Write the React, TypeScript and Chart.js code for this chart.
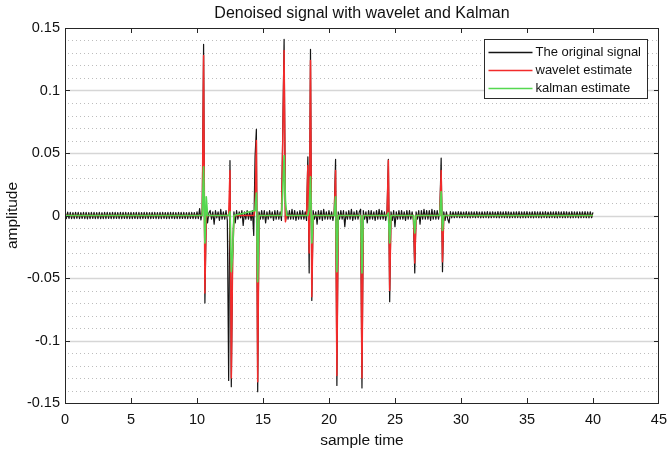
import React, { useEffect, useRef } from "react";
import { Chart, registerables } from "chart.js";

Chart.register(...registerables);

// ---------------- data ----------------
const TITLE = "Denoised signal with wavelet and Kalman";
const X_LABEL = "sample time";
const Y_LABEL = "amplitude";
const SERIES_LABELS = ["The original signal", "wavelet estimate", "kalman estimate"];

// original signal, sampled every 0.1 from t = 0 to t = 40 (one row = one time unit)
const SAMPLE_STEP = 0.1;
const originalSignal = [
  0.004, -0.0025, 0.0027, -0.0024, 0.0025, -0.0026, 0.0024, -0.0025, 0.0026, -0.0023,
  0.0025, -0.0026, 0.0024, -0.0024, 0.0026, -0.0025, 0.0025, -0.0027, 0.0024, -0.0025,
  0.0026, -0.0024, 0.0025, -0.0026, 0.0024, -0.0025, 0.0026, -0.0026, 0.0023, -0.0025,
  0.0025, -0.0025, 0.0026, -0.0024, 0.0024, -0.0026, 0.0025, -0.0025, 0.0026, -0.0024,
  0.0024, -0.0026, 0.0025, -0.0025, 0.0026, -0.0024, 0.0025, -0.0026, 0.0024, -0.0025,
  0.0026, -0.0025, 0.0024, -0.0024, 0.0025, -0.0026, 0.0026, -0.0025, 0.0024, -0.0025,
  0.0025, -0.0024, 0.0026, -0.0026, 0.0024, -0.0025, 0.0025, -0.0024, 0.0026, -0.0026,
  0.0024, -0.0025, 0.0025, -0.0026, 0.0026, -0.0024, 0.0024, -0.0025, 0.0025, -0.0026,
  0.0026, -0.0024, 0.0025, -0.0025, 0.0024, -0.0026, 0.0026, -0.0025, 0.0025, -0.0024,
  0.0025, -0.0026, 0.0024, -0.0025, 0.0026, -0.0024, 0.0025, -0.0025, 0.0024, -0.0026,
  0.003, -0.0025, 0.0055, -0.0035, 0.004, 0.137, -0.07, 0.003, -0.006, 0.002,
  0.004, -0.003, 0.003, -0.007, 0.004, -0.002, 0.003, -0.004, 0.005, -0.003,
  0.003, -0.003, 0.004, -0.004, -0.132, 0.044, -0.137, -0.032, 0.003, -0.006,
  0.004, -0.003, 0.003, -0.002, 0.004, -0.008, 0.003, -0.003, 0.004, -0.003,
  0.003, -0.004, 0.004, -0.016, 0.047, 0.069, -0.141, 0.003, -0.003, 0.004,
  -0.003, 0.004, -0.006, 0.003, -0.003, 0.004, -0.002, 0.003, -0.004, 0.004,
  -0.003, 0.004, -0.003, 0.003, -0.004, 0.068, 0.141, -0.003, 0.004, -0.003,
  0.004, -0.003, 0.005, -0.003, 0.004, -0.004, 0.003, -0.003, 0.004, -0.003,
  0.004, -0.003, 0.003, -0.004, 0.047, -0.046, 0.133, -0.068, 0.004, -0.003,
  0.003, -0.007, 0.004, -0.003, 0.004, -0.004, 0.005, -0.003, 0.003, -0.003,
  0.004, -0.003, 0.003, -0.004, 0.004, 0.045, -0.136, 0.003, -0.003, 0.004,
  -0.003, 0.004, -0.009, 0.003, -0.003, 0.004, -0.003, 0.005, -0.004, 0.003,
  -0.003, 0.004, -0.003, 0.003, 0.005, -0.138, 0.004, -0.003, 0.003, -0.006,
  0.004, -0.003, 0.004, -0.003, 0.003, -0.004, 0.004, -0.003, 0.005, -0.003,
  0.004, -0.003, 0.003, -0.004, 0.004, 0.045, -0.069, 0.003, -0.004, 0.004,
  -0.009, 0.003, -0.003, 0.004, -0.003, 0.004, -0.003, 0.003, -0.004, 0.004,
  -0.003, 0.004, -0.003, 0.003, -0.004, -0.046, 0.003, -0.003, 0.004, -0.007,
  0.004, -0.003, 0.005, -0.003, 0.004, -0.003, 0.004, -0.004, 0.005, -0.003,
  0.004, -0.003, 0.004, -0.003, 0.004, 0.046, -0.045, 0.003, -0.004, 0.003,
  -0.003, -0.006, 0.0031, -0.002, 0.003, -0.0018, 0.0029, -0.0017, 0.0031, -0.0018,
  0.003, -0.0018, 0.0028, -0.0017, 0.0031, -0.0018, 0.0029, -0.0019, 0.003, -0.0017,
  0.0029, -0.0018, 0.0031, -0.0017, 0.0028, -0.0019, 0.003, -0.0018, 0.0029, -0.0017,
  0.0031, -0.0019, 0.0029, -0.0018, 0.003, -0.0017, 0.0028, -0.0018, 0.0031, -0.0019,
  0.003, -0.0017, 0.0029, -0.0018, 0.0031, -0.0018, 0.003, -0.0019, 0.0028, -0.0017,
  0.0029, -0.0018, 0.003, -0.0017, 0.0031, -0.0019, 0.0029, -0.0018, 0.003, -0.0018,
  0.0031, -0.0017, 0.0028, -0.0018, 0.003, -0.0019, 0.0031, -0.0017, 0.0029, -0.0018,
  0.003, -0.0019, 0.0029, -0.0017, 0.0031, -0.0018, 0.0028, -0.0018, 0.003, -0.0017,
  0.0029, -0.0018, 0.0031, -0.0019, 0.003, -0.0017, 0.0029, -0.0018, 0.0031, -0.0018,
  0.003, -0.0017, 0.0028, -0.0019, 0.0031, -0.0018, 0.0029, -0.0017, 0.003, -0.0019,
  0.0029, -0.0018, 0.003, -0.0017, 0.0031, -0.0018, 0.0029, -0.0019, 0.003, -0.0018,
  0.0025,
];

// wavelet estimate (key samples)
const waveletTime = [
  0, 10.4, 10.5, 10.6, 10.7, 12.4, 12.5, 12.6, 12.7, 12.8, 14.3, 14.4, 14.5, 14.6, 14.7,
  16.4, 16.5, 16.6, 16.7, 16.8, 18.3, 18.4, 18.5, 18.6, 18.7, 18.8, 20.4, 20.5, 20.6, 20.7,
  22.4, 22.5, 22.6, 24.4, 24.5, 24.6, 24.7, 26.4, 26.5, 26.6, 28.4, 28.5, 28.6, 28.7, 40,
];
const waveletValue = [
  0, 0, 0.128, -0.062, 0, 0, 0.036, -0.13, -0.036, 0, 0, 0.005, 0.06, -0.133, 0,
  0, 0.06, 0.132, -0.005, 0, 0, 0.04, -0.03, 0.124, -0.065, 0, 0, 0.036, -0.128, 0,
  0, -0.13, 0, 0, 0.044, -0.06, 0, 0, -0.038, 0, 0, 0.036, -0.037, 0, 0,
];

// kalman estimate (key samples)
const kalmanTime = [
  0, 10.4, 10.5, 10.6, 10.7, 10.8, 12.4, 12.5, 12.6, 12.7, 12.8, 14.4, 14.5, 14.6, 14.7,
  16.4, 16.5, 16.6, 16.7, 16.8, 18.4, 18.5, 18.6, 18.7, 18.8, 20.4, 20.5, 20.6, 20.7,
  22.4, 22.5, 22.6, 24.4, 24.5, 24.6, 24.7, 26.4, 26.5, 26.6, 28.4, 28.5, 28.6, 28.7, 40,
];
const kalmanValue = [
  0, 0, 0.039, -0.022, 0.015, 0, 0, 0.003, -0.045, -0.03, 0, 0.004, 0.018, -0.053, 0,
  0, 0.02, 0.048, 0.012, 0, 0, 0.005, 0.031, -0.022, 0, 0, 0.015, -0.045, 0,
  0, -0.046, 0, 0, 0.002, -0.022, 0, 0, -0.014, 0, 0, 0.019, -0.012, 0, 0,
];

const X_MIN = 0;
const X_MAX = 45;
const X_STEP = 5;
const Y_MIN = -0.15;
const Y_MAX = 0.15;
const Y_MINOR_STEP = 0.01;

// ---------------- styles ----------------
const FONT = "'Liberation Sans', Arial, Helvetica, sans-serif";
const COLORS = ["#141414", "#f22b2b", "#55d850"];
const WIDTHS = [1.2, 1.5, 1.7];

const isMajorY = (v: number) => Math.abs(Math.round(v * 1000)) % 50 === 0;
const fmtY = (v: number) => {
  const r = Math.round(v * 100) / 100;
  return r === 0 ? "0" : String(r);
};

const matlabPlugin = {
  id: "matlabDecor",
  beforeDatasetsDraw(chart: any) {
    const { ctx, scales } = chart;
    const x = scales.x;
    const y = scales.y;
    ctx.save();
    ctx.lineWidth = 1;
    y.ticks.forEach((t: any) => {
      const py = Math.round(y.getPixelForValue(t.value)) + 0.5;
      if (py <= y.top + 1 || py >= y.bottom - 1) return;
      ctx.beginPath();
      if (isMajorY(t.value)) {
        ctx.setLineDash([]);
        ctx.strokeStyle = "#d6d6d6";
        ctx.lineWidth = 1.3;
      } else {
        ctx.setLineDash([1, 3]);
        ctx.strokeStyle = "#bdbdbd";
        ctx.lineWidth = 1;
      }
      ctx.moveTo(x.left + 3, py);
      ctx.lineTo(x.right - 1, py);
      ctx.stroke();
    });
    ctx.restore();
  },
  afterDatasetsDraw(chart: any) {
    const { ctx, scales } = chart;
    const x = scales.x;
    const y = scales.y;
    const L = Math.round(x.left);
    const R = Math.round(x.right);
    const T = Math.round(y.top);
    const B = Math.round(y.bottom);
    ctx.save();
    ctx.setLineDash([]);
    ctx.strokeStyle = "#262626";
    ctx.lineWidth = 1;
    // ticks inward
    const TL = 5;
    ctx.beginPath();
    x.ticks.forEach((t: any) => {
      const px = Math.round(x.getPixelForValue(t.value)) + 0.5;
      if (px <= L + 1 || px >= R - 1) return;
      ctx.moveTo(px, B);
      ctx.lineTo(px, B - TL);
      ctx.moveTo(px, T);
      ctx.lineTo(px, T + TL);
    });
    y.ticks.forEach((t: any) => {
      if (!isMajorY(t.value)) return;
      const py = Math.round(y.getPixelForValue(t.value)) + 0.5;
      if (py <= T + 1 || py >= B - 1) return;
      ctx.moveTo(L, py);
      ctx.lineTo(L + TL, py);
      ctx.moveTo(R, py);
      ctx.lineTo(R - TL, py);
    });
    ctx.stroke();
    // box
    ctx.strokeRect(L + 0.5, T + 0.5, R - L - 1, B - T);

    // legend
    const boxW = 163;
    const boxH = 59;
    const bx = R - 12 - boxW + 0.5;
    const by = T + 11 + 0.5;
    ctx.fillStyle = "#ffffff";
    ctx.fillRect(bx, by, boxW, boxH);
    ctx.strokeStyle = "#2a2a2a";
    ctx.lineWidth = 1;
    ctx.strokeRect(bx, by, boxW, boxH);
    ctx.font = `13px ${FONT}`;
    ctx.textBaseline = "middle";
    ctx.textAlign = "left";
    chart.data.datasets.forEach((ds: any, i: number) => {
      const ry = by + 13 + i * 18;
      ctx.beginPath();
      ctx.strokeStyle = ds.borderColor;
      ctx.lineWidth = 1.5;
      ctx.moveTo(bx + 4, ry);
      ctx.lineTo(bx + 48, ry);
      ctx.stroke();
      ctx.fillStyle = "#111111";
      ctx.fillText(ds.label, bx + 51, ry);
    });
    ctx.restore();
  },
  afterDraw(chart: any) {
    const { ctx, scales } = chart;
    const x = scales.x;
    const y = scales.y;
    ctx.save();
    ctx.fillStyle = "#111111";
    ctx.textAlign = "center";
    ctx.textBaseline = "middle";
    ctx.font = `16px ${FONT}`;
    ctx.fillText(TITLE, (x.left + x.right) / 2, 14);
    ctx.font = `15.5px ${FONT}`;
    ctx.fillText(X_LABEL, (x.left + x.right) / 2, 441);
    ctx.translate(13, (y.top + y.bottom) / 2);
    ctx.rotate(-Math.PI / 2);
    ctx.fillText(Y_LABEL, 0, 0);
    ctx.restore();
  },
};

export default function App() {
  const canvasRef = useRef<HTMLCanvasElement | null>(null);

  useEffect(() => {
    document.body.style.margin = "0";
    const canvas = canvasRef.current;
    if (!canvas) return;

    const series = [
      originalSignal.map((v, i) => ({ x: Math.round(i * SAMPLE_STEP * 10) / 10, y: v })),
      waveletTime.map((t, i) => ({ x: t, y: waveletValue[i] })),
      kalmanTime.map((t, i) => ({ x: t, y: kalmanValue[i] })),
    ];

    const chart = new Chart(canvas, {
      type: "line",
      data: {
        datasets: series.map((data, i) => ({
          label: SERIES_LABELS[i],
          data,
          borderColor: COLORS[i],
          backgroundColor: COLORS[i],
          borderWidth: WIDTHS[i],
          borderJoinStyle: "round",
          pointRadius: 0,
          tension: 0,
          fill: false,
          order: 3 - i,
        })),
      },
      options: {
        animation: false,
        responsive: false,
        devicePixelRatio: 1,
        events: [],
        layout: { padding: { top: 28, right: 8, left: 0, bottom: 0 } },
        plugins: {
          legend: { display: false },
          title: { display: false },
          tooltip: { enabled: false },
        },
        scales: {
          x: {
            type: "linear",
            min: X_MIN,
            max: X_MAX,
            grid: { display: false, drawTicks: false },
            border: { display: false },
            ticks: {
              stepSize: X_STEP,
              maxRotation: 0,
              autoSkip: false,
              padding: 0,
              color: "#111111",
              font: { family: FONT, size: 14.5, lineHeight: 2.4 },
            },
            afterFit: (s: any) => {
              s.height = 49;
            },
          },
          y: {
            type: "linear",
            min: Y_MIN,
            max: Y_MAX,
            grid: { display: false, drawTicks: false },
            border: { display: false },
            ticks: {
              stepSize: Y_MINOR_STEP,
              maxTicksLimit: 40,
              autoSkip: false,
              padding: 5,
              color: "#111111",
              font: { family: FONT, size: 14.5 },
              callback: (value: any) => {
                const v = Number(value);
                return isMajorY(v) ? fmtY(v) : "";
              },
            },
            afterFit: (s: any) => {
              s.width = 65;
            },
          },
        },
      },
      plugins: [matlabPlugin],
    } as any);

    return () => chart.destroy();
  }, []);

  return (
    <div style={{ width: 667, height: 452 }}>
      <canvas ref={canvasRef} width={667} height={452} style={{ display: "block" }} />
    </div>
  );
}
